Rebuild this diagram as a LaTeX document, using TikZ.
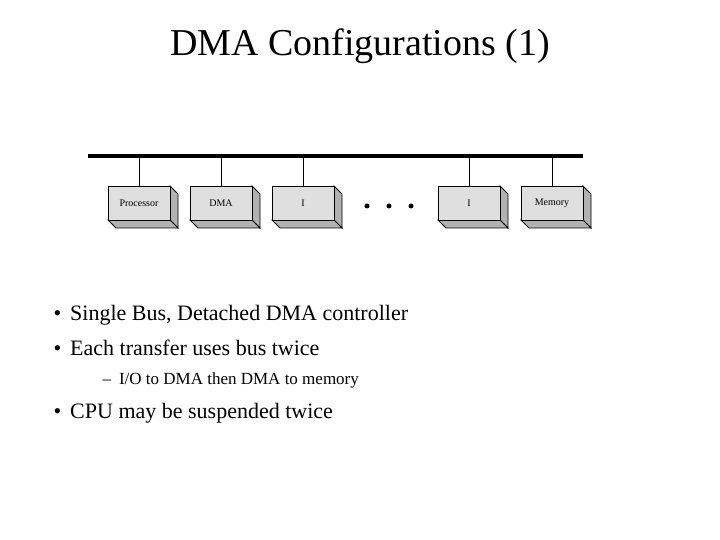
\documentclass[tikz,border=0pt]{standalone}
\usepackage{fontspec}
\setmainfont{Liberation Serif}
\tikzset{
  front/.style={draw=black,fill=gray!25,line width=0.8pt},
  side/.style={draw=black,fill=gray!60,line width=0.8pt},
  lbl/.style={font=\fontsize{10}{12}\selectfont},
  bullet/.style={anchor=base west,font=\fontsize{22}{26}\selectfont},
  subbullet/.style={anchor=base west,font=\fontsize{17}{20}\selectfont}
}
\begin{document}
\begin{tikzpicture}[x=1pt,y=-1pt]
    \useasboundingbox (0,0) rectangle (720,540);
    % Titulo
    \node[font=\fontsize{38}{44}\selectfont] (title) at (360,46) {DMA Configurations (1)};
    % Bus
    \coordinate (busL) at (88,156);
    \coordinate (busR) at (583,156);
    \draw[line width=4pt] (busL) -- (busR);
    % Modulos
    \foreach \x/\t/\n in {108/Processor/proc,190/DMA/dma,272/I/O/ioa,438/I/O/iob,521/Memory/mem}{
        \draw[side] (\x+62,186) -- (\x+70,194) -- (\x+70,228) -- (\x+62,220) -- cycle;
        \draw[side] (\x,220) -- (\x+62,220) -- (\x+70,228) -- (\x+8,228) -- cycle;
        \node[front,minimum width=62pt,minimum height=34pt,inner sep=0pt,lbl] (\n) at (\x+31,203) {\t};
        \draw[line width=0.8pt] (\n.north) -- (\n.north |- busL);
    }
    % Puntos
    \foreach \x in {367,389,411}{
        \fill (\x,206) circle (2.5);
    }
    % Texto
    \node[bullet] (b1) at (50,320) {\textbullet\hspace{9pt}Single Bus, Detached DMA controller};
    \node[bullet] (b2) at (50,355) {\textbullet\hspace{9pt}Each transfer uses bus twice};
    \node[subbullet] (s1) at (99,384) {--\hspace{8pt}I/O to DMA then DMA to memory};
    \node[bullet] (b3) at (50,418) {\textbullet\hspace{9pt}CPU may be suspended twice};
\end{tikzpicture}
\end{document}
